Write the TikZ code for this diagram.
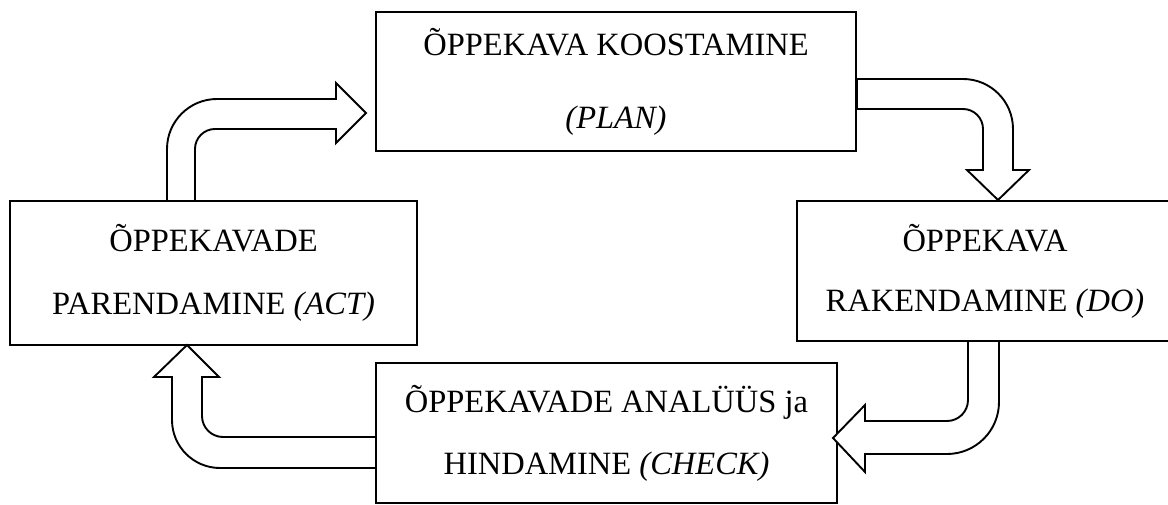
\documentclass[tikz,border=0pt]{standalone}
\usepackage{fontspec}
\setmainfont{Liberation Serif}
\begin{document}
\begin{tikzpicture}[x=1pt,y=-1pt,
  box/.style={draw,line width=1.9pt,inner sep=0pt,align=center},
  blockarrow/.style={draw,line width=1.9pt,line join=miter,fill=white},
  txt/.style={font=\fontsize{32.5}{#1}\selectfont}]
\useasboundingbox (0,0) rectangle (1168,505);
% boxes
\node[box,txt=73,minimum width=480,minimum height=139] (plan) at (616,81.5)
  {ÕPPEKAVA KOOSTAMINE\\\textit{(PLAN)}};
\node[box,txt=63,minimum width=407,minimum height=144] (act) at (213.5,273)
  {ÕPPEKAVADE\\PARENDAMINE \textit{(ACT)}};
\node[box,txt=60,minimum width=376,minimum height=140] (do) at (985,271)
  {ÕPPEKAVA\\RAKENDAMINE \textit{(DO)}};
\node[box,txt=62,minimum width=461,minimum height=140] (check) at (606.5,433)
  {ÕPPEKAVADE ANALÜÜS ja\\HINDAMINE \textit{(CHECK)}};
% block arrows
% ACT -> PLAN
\draw[blockarrow] (167,201) -- (167,149) arc[start angle=180,end angle=270,radius=50]
  -- (336,99) -- (336,83) -- (366,113) -- (336,143) -- (336,129) -- (215,129)
  arc[start angle=270,end angle=180,radius=20] -- (195,201) -- cycle;
% PLAN -> DO
\draw[blockarrow] (857,79) -- (963,79) arc[start angle=270,end angle=360,radius=50]
  -- (1013,170) -- (1029,170) -- (998,200) -- (967,170) -- (983,170) -- (983,129)
  arc[start angle=0,end angle=-90,radius=20] -- (857,109) -- cycle;
% DO -> CHECK
\draw[blockarrow] (999,341) -- (999,402) arc[start angle=0,end angle=90,radius=52]
  -- (865,454) -- (865,472) -- (833,438) -- (865,405) -- (865,421) -- (947,421)
  arc[start angle=90,end angle=0,radius=21] -- (968,341) -- cycle;
% CHECK -> ACT
\draw[blockarrow] (376,468) -- (220,468) arc[start angle=90,end angle=180,radius=48]
  -- (172,377) -- (154,377) -- (187,345) -- (219,377) -- (202,377) -- (202,416)
  arc[start angle=180,end angle=90,radius=21] -- (376,437) -- cycle;
\end{tikzpicture}
\end{document}
